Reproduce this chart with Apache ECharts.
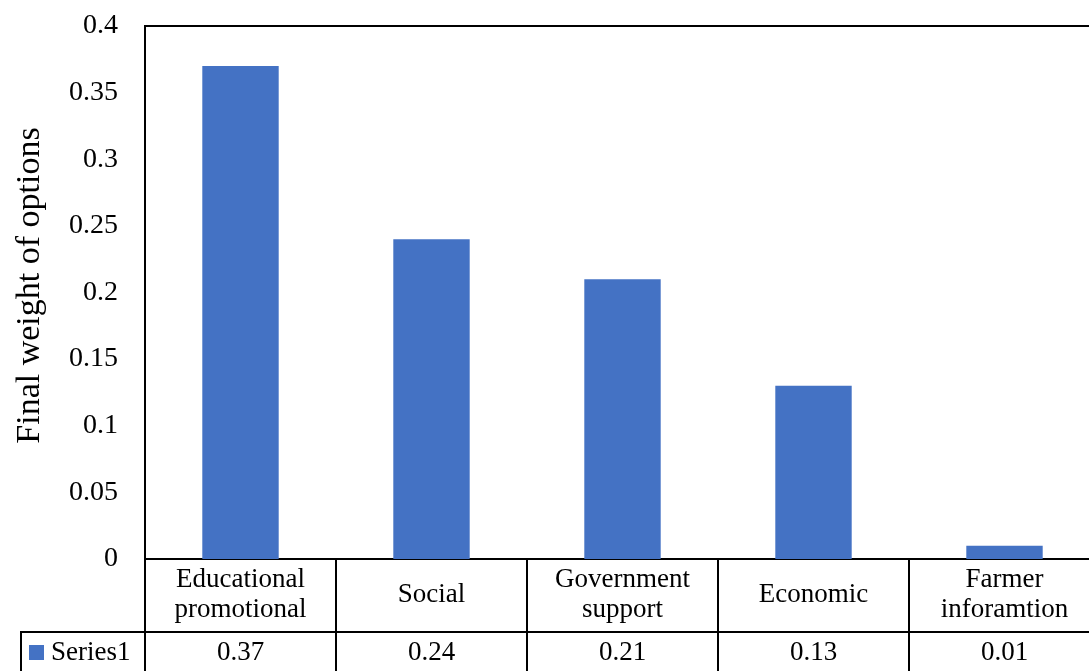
<!DOCTYPE html>
<html>
<head>
<meta charset="utf-8">
<script src="https://cdn.jsdelivr.net/npm/echarts@6/dist/echarts.min.js"></script>
<style>
html,body{margin:0;padding:0;background:#fff;}
#chart{width:1089px;height:671px;}
</style>
</head>
<body>
<div id="chart"></div>
<script>
const categories = ["Educational\npromotional", "Social", "Government\nsupport", "Economic", "Farmer\ninforamtion"];
const values = [0.37, 0.24, 0.21, 0.13, 0.01];
const seriesName = "Series1";
const yAxisTitle = "Final weight of options";

const FONT = "'Liberation Serif','Times New Roman',serif";
const chart = echarts.init(document.getElementById('chart'), null, {renderer: 'canvas'});
chart.setOption({
  animation: false,
  backgroundColor: '#fff',
  textStyle: {fontFamily: FONT, color: '#000'},
  legend: {
    show: true,
    left: 29, top: 639, padding: 0,
    icon: 'rect', itemWidth: 15, itemHeight: 15, itemGap: 5,
    data: [seriesName],
    textStyle: {fontFamily: FONT, fontSize: 27, color: '#000', padding: [0,0,0,2]}
  },
  grid: {
    left: 145, top: 26, right: -11, bottom: 112,
    containLabel: false,
    outerBoundsMode: 'none',
    show: true, borderColor: '#000', borderWidth: 2
  },
  xAxis: [{
    type: 'category',
    data: categories,
    position: 'bottom',
    axisLine: {show: true, lineStyle: {color: '#000', width: 2}},
    axisTick: {show: true, length: 120, inside: false, alignWithLabel: false, lineStyle: {color: '#000', width: 2}},
    axisLabel: {
      interval: 0, margin: 36, verticalAlign: 'middle',
      fontFamily: FONT, fontSize: 27, lineHeight: 30, color: '#000', align: 'center'
    },
    splitLine: {show: false}
  }, {
    type: 'category',
    data: categories,
    position: 'bottom',
    offset: 73,
    axisLine: {show: true, lineStyle: {color: '#000', width: 2}},
    axisTick: {show: false},
    axisLabel: {
      interval: 0, margin: 21, verticalAlign: 'middle',
      fontFamily: FONT, fontSize: 27, color: '#000',
      formatter: function (v, i) { return String(values[i]); }
    }
  }],
  yAxis: {
    type: 'value',
    min: 0, max: 0.4, interval: 0.05,
    name: yAxisTitle,
    nameLocation: 'middle',
    nameRotate: 90,
    nameGap: 98,
    nameTextStyle: {fontFamily: FONT, fontSize: 34, color: '#000', padding: [0, 0, 0, 14]},
    axisLine: {show: true, lineStyle: {color: '#000', width: 2}},
    axisTick: {show: false},
    splitLine: {show: false},
    axisLabel: {margin: 27, fontFamily: FONT, fontSize: 28, color: '#000'}
  },
  graphic: [
    {type: 'line', shape: {x1: 21, y1: 632, x2: 146, y2: 632}, style: {stroke: '#000', lineWidth: 2}},
    {type: 'line', shape: {x1: 21, y1: 631, x2: 21, y2: 680}, style: {stroke: '#000', lineWidth: 2}}
  ],
  series: [{
    name: seriesName,
    type: 'bar',
    xAxisIndex: 0,
    data: values,
    barWidth: '40%',
    itemStyle: {color: '#4472C4'}
  }]
});
</script>
</body>
</html>
